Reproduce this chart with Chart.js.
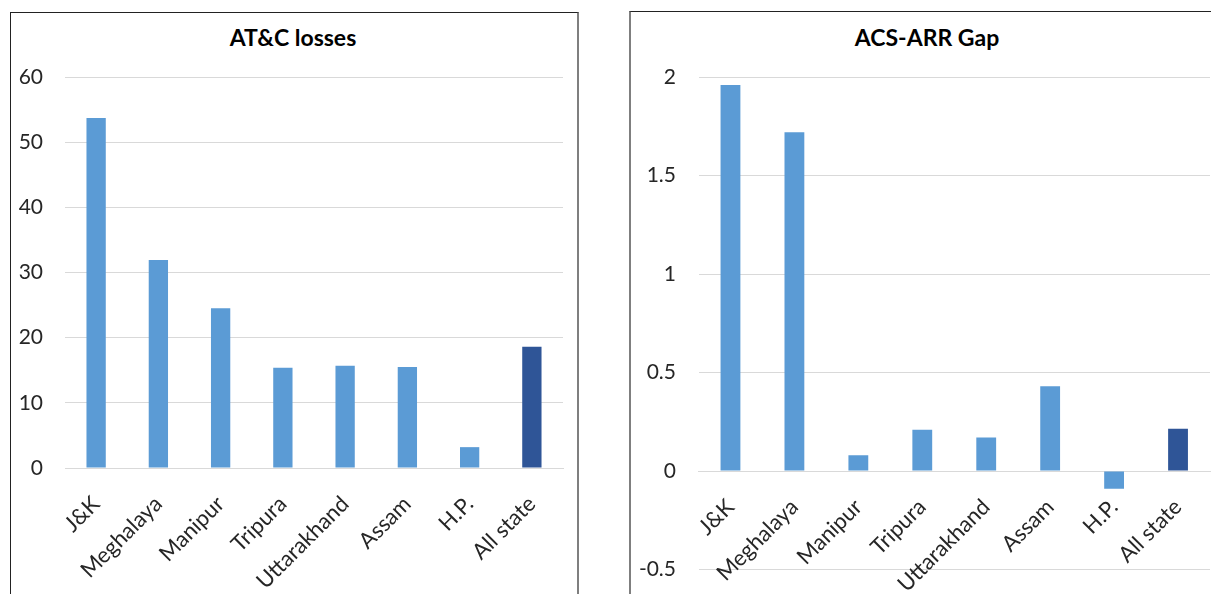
<!DOCTYPE html>
<html>
<head>
<meta charset="utf-8">
<script src="https://cdn.jsdelivr.net/npm/chart.js@4"></script>
<style>
  html, body { margin: 0; padding: 0; background: #fff; }
  body { width: 1211px; height: 594px; overflow: hidden; position: relative; font-family: Lato, sans-serif; }
  .box { position: absolute; box-sizing: border-box; }
  #box-left { left: 10px; top: 12px; width: 569px; height: 620px;
    border-left: 1px solid #222; border-top: 1px solid #222; border-right: 2px solid #7f7f7f; }
  #box-right { left: 629px; top: 11px; width: 620px; height: 620px;
    border-left: 2px solid #7f7f7f; border-top: 1px solid #222; }
  .wrap { position: absolute; top: 0; height: 594px; }
  #wrap-left { left: 0; width: 600px; }
  #wrap-right { left: 600px; width: 611px; }
  .title { position: absolute; top: 25px; width: 300px; text-align: center;
    font-size: 23px; font-weight: bold; line-height: 25px; color: #000; }
  #title-left { left: 143px; }
  #title-right { left: 777px; }
</style>
</head>
<body>
<div class="box" id="box-left"></div>
<div class="box" id="box-right"></div>
<div class="title" id="title-left">AT&amp;C losses</div>
<div class="title" id="title-right">ACS-ARR Gap</div>
<div class="wrap" id="wrap-left"><canvas id="atcChart"></canvas></div>
<div class="wrap" id="wrap-right"><canvas id="gapChart"></canvas></div>
<script>
const categories = ['J&K', 'Meghalaya', 'Manipur', 'Tripura', 'Uttarakhand', 'Assam', 'H.P.', 'All state'];
const atcLosses = [53.7, 31.9, 24.5, 15.4, 15.7, 15.5, 3.2, 18.6];
const acsArrGap = [1.96, 1.72, 0.08, 0.21, 0.17, 0.43, -0.09, 0.215];
const atcTicks = [0, 10, 20, 30, 40, 50, 60];
const gapTicks = [-0.5, 0, 0.5, 1, 1.5, 2];

const BAR = '#5B9BD5';
const BAR_ALL = '#2F5597';
const GRID = '#d9d9d9';
const TEXT = '#262626';
const FONT = 'Lato';

Chart.defaults.font.family = FONT;
Chart.defaults.color = TEXT;
Chart.defaults.animation = false;

// last category ("All state") is the darker bar
function barColors() {
  return categories.map((c, i) => i === categories.length - 1 ? BAR_ALL : BAR);
}

function buildChart(id, values, ticks, opts) {
  const ctx = document.getElementById(id);
  return new Chart(ctx, {
    type: 'bar',
    data: {
      labels: categories,
      datasets: [{
        data: values,
        backgroundColor: barColors(),
        borderWidth: 0,
        barPercentage: 0.31,
        categoryPercentage: 1
      }]
    },
    options: {
      responsive: true,
      maintainAspectRatio: false,
      layout: { padding: opts.padding },
      plugins: {
        legend: { display: false },
        tooltip: { enabled: false },
        title: { display: false }
      },
      scales: {
        x: {
          type: 'category',
          position: { y: 0 },  // labels hang off the zero line, like Excel
          grid: { display: false, drawTicks: false },
          border: { display: true, color: GRID, width: 1 },
          ticks: {
            minRotation: 45,
            maxRotation: 45,
            autoSkip: false,
            padding: opts.xPad,
            font: { family: FONT, size: 22 },
            color: TEXT
          },
          afterFit: s => { s.paddingLeft = 0; s.paddingRight = 0; }
        },
        y: {
          min: ticks[0],
          max: ticks[ticks.length - 1],
          // invisible tick marks give the gap between labels and plot
          grid: { color: GRID, lineWidth: 1, drawTicks: true, tickLength: opts.yGap, tickColor: 'rgba(0,0,0,0)' },
          border: { display: false },
          ticks: {
            stepSize: ticks[1] - ticks[0],
            padding: 0,
            font: { family: FONT, size: 21 },
            color: TEXT,
            callback: v => String(v)
          },
          afterFit: s => { s.width = opts.yWidth; }
        }
      }
    }
  });
}

buildChart('atcChart', atcLosses, atcTicks, {
  padding: { left: 0, right: 37, top: 77, bottom: 126 },
  yWidth: 65, yGap: 22, xPad: 23
});

buildChart('gapChart', acsArrGap, gapTicks, {
  padding: { left: 0, right: 1, top: 77, bottom: 24.5 },
  yWidth: 98.5, yGap: 22.5, xPad: 23
});
</script>
</body>
</html>
